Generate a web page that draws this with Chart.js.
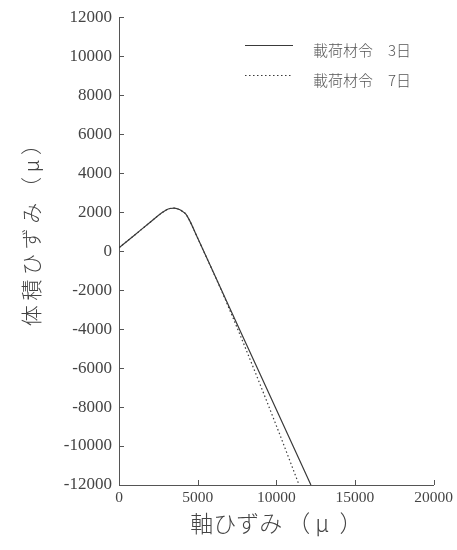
<!DOCTYPE html>
<html>
<head>
<meta charset="utf-8">
<script src="https://cdn.jsdelivr.net/npm/chart.js@4"></script>
<style>
  html, body { margin: 0; padding: 0; background: #fff; }
  #wrap { width: 457px; height: 550px; }
</style>
</head>
<body>
<div id="wrap"><canvas id="strainChart"></canvas></div>
<script>
// axial strain (μ) vs volumetric strain (μ), curing age 3 days and 7 days
const axial3 = [0, 1000, 2000, 2700, 3000, 3250, 3500, 3750, 4000, 4250, 4500, 5000, 6000, 8000, 10000, 12200];
const volume3 = [170, 830, 1490, 1950, 2110, 2185, 2200, 2160, 2060, 1900, 1550, 670, -1090, -4610, -8130, -12000];
const axial7 = [0, 1000, 2000, 2700, 3000, 3250, 3500, 3750, 4000, 4250, 4500, 5000, 6000, 6500, 8000, 10000, 11450];
const volume7 = [170, 830, 1490, 1950, 2110, 2185, 2200, 2160, 2060, 1900, 1550, 670, -1100, -2000, -4900, -8950, -12000];

const seriesNames = ['載荷材令　3日', '載荷材令　7日'];
const xTicks = [0, 5000, 10000, 15000, 20000];
const yTicks = [-12000, -10000, -8000, -6000, -4000, -2000, 0, 2000, 4000, 6000, 8000, 10000, 12000];

const ink = '#3a3a3a';
const serif = '"Liberation Serif", "Times New Roman", "DejaVu Serif", serif';
const jp = '"Noto Sans CJK JP", sans-serif';

const toPoints = (xs, ys) => xs.map((x, i) => ({ x: x, y: ys[i] }));

// small ticks pointing into the plot, plus the legend in the upper right
const innerBits = {
  id: 'innerBits',
  afterDraw(chart) {
    const c = chart.ctx;
    const xs = chart.scales.x, ys = chart.scales.y;
    const a = chart.chartArea;
    c.save();
    c.strokeStyle = '#555';
    c.lineWidth = 1;
    c.beginPath();
    yTicks.forEach(v => {
      const py = Math.round(ys.getPixelForValue(v)) + 0.5;
      c.moveTo(a.left, py); c.lineTo(a.left + 5, py);
    });
    xTicks.forEach(v => {
      const px = Math.round(xs.getPixelForValue(v)) + 0.5;
      c.moveTo(px, a.bottom); c.lineTo(px, a.bottom - 5);
    });
    c.stroke();

    // legend
    chart.data.datasets.forEach((ds, i) => {
      const y = 45 + i * 30;
      c.strokeStyle = ds.borderColor;
      c.lineWidth = ds.borderWidth;
      c.setLineDash(ds.borderDash || []);
      c.beginPath();
      c.moveTo(245, y + 0.5); c.lineTo(293, y + 0.5);
      c.stroke();
      c.setLineDash([]);
      c.fillStyle = '#555';
      c.font = '300 15px ' + jp;
      c.textBaseline = 'middle';
      c.fillText(ds.label, 313, y + 5);
    });
    c.restore();
  }
};

new Chart(document.getElementById('strainChart'), {
  type: 'scatter',
  data: {
    datasets: [
      {
        label: seriesNames[0],
        data: toPoints(axial3, volume3),
        showLine: true,
        borderColor: ink,
        borderWidth: 1.2,
        pointRadius: 0,
        cubicInterpolationMode: 'monotone'
      },
      {
        label: seriesNames[1],
        data: toPoints(axial7, volume7),
        showLine: true,
        borderColor: ink,
        borderWidth: 1.2,
        borderDash: [1.5, 2.5],
        pointRadius: 0,
        cubicInterpolationMode: 'monotone'
      }
    ]
  },
  options: {
    responsive: true,
    maintainAspectRatio: false,
    animation: false,
    layout: { padding: { top: 17, right: 23, left: 0, bottom: 0 } },
    plugins: {
      legend: { display: false },
      tooltip: { enabled: false }
    },
    scales: {
      x: {
        type: 'linear',
        min: 0,
        max: 20000,
        afterBuildTicks: s => { s.ticks = xTicks.map(v => ({ value: v })); },
        afterFit: s => { s.height = 65; },
        grid: { display: false, drawTicks: false },
        border: { display: true, color: '#555', width: 1 },
        ticks: {
          color: '#444',
          font: { family: serif, size: 15.5 },
          padding: 4,
          maxRotation: 0,
          callback: v => String(v)
        },
        title: {
          display: true,
          text: '軸ひずみ （ μ  ）',
          color: '#444',
          font: { family: jp, size: 23, weight: 300 },
          padding: { top: 0, bottom: 13 }
        }
      },
      y: {
        type: 'linear',
        min: -12000,
        max: 12000,
        afterBuildTicks: s => { s.ticks = yTicks.map(v => ({ value: v })); },
        afterFit: s => { s.width = 119; },
        grid: { display: false, drawTicks: false },
        border: { display: true, color: '#555', width: 1 },
        ticks: {
          color: '#444',
          font: { family: serif, size: 17 },
          padding: 7,
          callback: v => String(v)
        },
        title: {
          display: true,
          text: '\u3000\u3000体 積 ひ ず み （ μ ）',
          color: '#444',
          font: { family: jp, size: 21, weight: 300 },
          padding: { top: 18, bottom: 0 }
        }
      }
    }
  },
  plugins: [innerBits]
});
</script>
</body>
</html>
